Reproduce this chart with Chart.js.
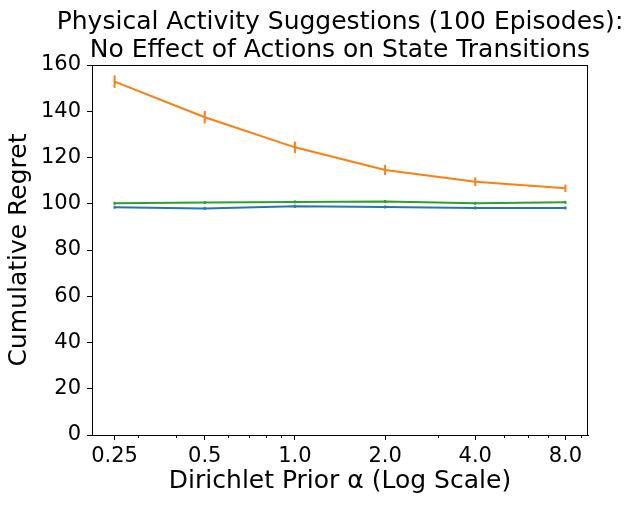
<!DOCTYPE html>
<html><head><meta charset="utf-8">
<script src="https://cdn.jsdelivr.net/npm/chart.js@4.4.1/dist/chart.umd.min.js"></script>
<style>html,body{margin:0;padding:0;background:#fff}canvas{display:block}</style>
</head><body>
<canvas id="c" width="633" height="507"></canvas>
<script>
const alphas = [0.25, 0.5, 1, 2, 4, 8];
const tickLabels = ['0.25', '0.5', '1.0', '2.0', '4.0', '8.0'];
const minorTicks = [0.3, 0.4, 0.6, 0.7, 0.8, 0.9, 3, 5, 6, 7, 9];
const yTicks = [0, 20, 40, 60, 80, 100, 120, 140, 160];
const titleLines = ['Physical Activity Suggestions (100 Episodes):', 'No Effect of Actions on State Transitions'];

const blueVals = [98.5, 98.0, 98.9, 98.6, 98.2, 98.2];
const blueErr = [0.5, 0.5, 0.5, 0.5, 0.5, 0.5];
const orangeVals = [152.8, 137.4, 124.4, 114.6, 109.5, 106.7];
const orangeErr = [2.7, 2.7, 2.5, 2.2, 1.9, 1.6];
const greenVals = [100.2, 100.5, 100.8, 101.0, 100.2, 100.6];
const greenErr = [0.5, 0.5, 0.5, 0.5, 0.5, 0.5];

const FONT = "'DejaVu Sans', sans-serif";

function pts(vals) { return alphas.map((a, i) => ({ x: a, y: vals[i] })); }

const series = [
  { vals: blueVals, err: blueErr, color: '#1f77b4' },
  { vals: orangeVals, err: orangeErr, color: '#ff7f0e' },
  { vals: greenVals, err: greenErr, color: '#2ca02c' }
];

const errPlugin = {
  id: 'errbars',
  afterDatasetsDraw(chart) {
    const ctx = chart.ctx, xs = chart.scales.x, ys = chart.scales.y;
    ctx.save();
    series.forEach(s => {
      ctx.strokeStyle = s.color;
      ctx.lineWidth = 2;
      alphas.forEach((a, i) => {
        const px = xs.getPixelForValue(a);
        let y1 = ys.getPixelForValue(s.vals[i] + s.err[i]);
        let y2 = ys.getPixelForValue(s.vals[i] - s.err[i]);
        if (y2 - y1 < 3) { const m = (y1 + y2) / 2; y1 = m - 1.5; y2 = m + 1.5; }
        ctx.beginPath(); ctx.moveTo(px, y1); ctx.lineTo(px, y2); ctx.stroke();
      });
    });
    ctx.restore();
  },
  afterDraw(chart) {
    const ctx = chart.ctx, a = chart.chartArea, xs = chart.scales.x;
    ctx.save();
    ctx.strokeStyle = '#000';
    ctx.lineWidth = 1;
    ctx.beginPath();
    ctx.moveTo(a.left, a.top + 0.5); ctx.lineTo(a.right, a.top + 0.5);
    ctx.moveTo(a.right - 0.5, a.top); ctx.lineTo(a.right - 0.5, a.bottom);
    ctx.stroke();
    ctx.beginPath();
    minorTicks.forEach(v => {
      const px = Math.round(xs.getPixelForValue(v)) + 0.5;
      ctx.moveTo(px, a.bottom); ctx.lineTo(px, a.bottom + 3);
    });
    ctx.stroke();
    // title centred over the axes
    ctx.fillStyle = '#000';
    ctx.font = '25px ' + FONT;
    ctx.textAlign = 'center';
    ctx.textBaseline = 'alphabetic';
    const cx = (a.left + a.right) / 2;
    ctx.fillText(titleLines[0], cx, a.top - 36.5);
    ctx.fillText(titleLines[1], cx, a.top - 8.3);
    ctx.restore();
  }
};

new Chart(document.getElementById('c'), {
  type: 'line',
  data: {
    datasets: series.map(s => ({
      data: pts(s.vals),
      borderColor: s.color,
      backgroundColor: s.color,
      borderWidth: 2,
      pointRadius: 0,
      tension: 0,
      fill: false
    }))
  },
  options: {
    responsive: false,
    animation: false,
    devicePixelRatio: 1,
    layout: { padding: { left: 0, right: 45, top: 65, bottom: 0 } },
    plugins: {
      legend: { display: false },
      tooltip: { enabled: false },
      title: { display: false }
    },
    scales: {
      x: {
        type: 'logarithmic',
        min: 0.25 * Math.pow(2, -0.25),
        max: 8 * Math.pow(2, 0.25),
        afterBuildTicks(scale) { scale.ticks = alphas.map(v => ({ value: v, major: true })); },
        afterFit(scale) { scale.height = 72; },
        ticks: {
          autoSkip: false,
          maxRotation: 0,
          color: '#000',
          padding: 4,
          font: { family: FONT, size: 21 },
          callback(value) { const i = alphas.indexOf(value); return i >= 0 ? tickLabels[i] : ''; }
        },
        grid: { drawOnChartArea: false, drawTicks: true, tickLength: 5, tickColor: '#000', tickWidth: 1 },
        border: { display: true, color: '#000', width: 1 },
        title: {
          display: true,
          text: 'Dirichlet Prior α (Log Scale)',
          color: '#000',
          font: { family: FONT, size: 25 },
          padding: { top: 0, bottom: 11 }
        }
      },
      y: {
        type: 'linear',
        min: 0,
        max: 160,
        afterBuildTicks(scale) { scale.ticks = yTicks.map(v => ({ value: v })); },
        afterFit(scale) { scale.width = 92; },
        ticks: { color: '#000', padding: 6, font: { family: FONT, size: 21 } },
        grid: { drawOnChartArea: false, drawTicks: true, tickLength: 5, tickColor: '#000', tickWidth: 1 },
        border: { display: true, color: '#000', width: 1 },
        title: {
          display: true,
          text: 'Cumulative Regret',
          color: '#000',
          font: { family: FONT, size: 25 },
          padding: { top: 4, bottom: 0 }
        }
      }
    }
  },
  plugins: [errPlugin]
});
</script>
</body></html>
